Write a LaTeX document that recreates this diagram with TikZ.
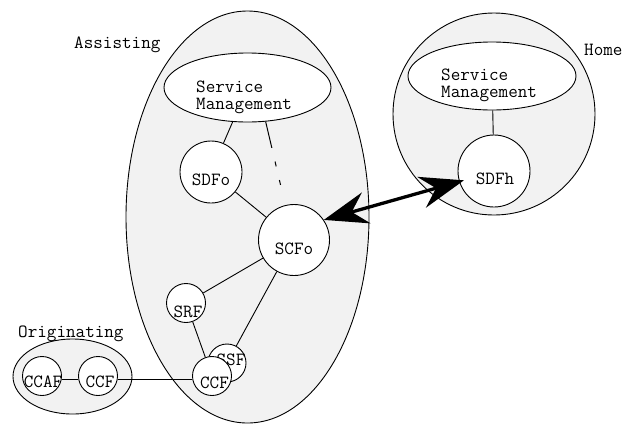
\documentclass[tikz,border=0pt]{standalone}
\usepackage{fontspec}
\usetikzlibrary{shapes.geometric,arrows.meta}
\begin{document}
\begin{tikzpicture}[x=1pt,y=-1pt,
  every node/.style={font=\ttfamily\fontsize{18.6}{16}\selectfont},
  region/.style={draw, fill=black!5, ellipse, inner sep=0pt, line width=0.9pt},
  fun/.style={draw, fill=white, circle, inner sep=0pt, line width=0.9pt},
  smell/.style={draw, fill=white, ellipse, inner sep=0pt, line width=0.9pt},
  txt/.style={inner sep=0pt, anchor=base},
  lbl/.style={inner sep=0pt, anchor=base west},
  smtxt/.style={inner sep=0pt, anchor=north west, align=left},
  link/.style={line width=0.9pt},
  dlink/.style={line width=1pt, dash pattern=on 27pt off 14pt on 5pt off 14pt on 5pt off 30pt},
  bigarrow/.style={line width=3.3pt, {Stealth[length=44pt,width=32pt,inset=15pt]}-{Stealth[length=44pt,width=32pt,inset=15pt]}}
]
\useasboundingbox (0,0) rectangle (623,424);

% regions
\node[region, minimum width=243pt, minimum height=412pt] (Assist) at (247.5,217) {};
\node[region, minimum width=202pt, minimum height=202pt] (Home) at (494,114) {};
\node[region, minimum width=119pt, minimum height=75pt] (Orig) at (72.5,376.5) {};

% region labels
\node[lbl] (lAssist) at (74,48) {Assisting};
\node[lbl] (lHome) at (584,55) {Home};
\node[lbl] (lOrig) at (18,337) {Originating};

% service management
\node[smell, minimum width=167pt, minimum height=69pt] (SMa) at (247.5,87.5) {};
\node[smtxt] (tSMa) at (196,81.2) {Service\\[1pt]Management};
\node[smell, minimum width=168pt, minimum height=68pt] (SMh) at (492,76) {};
\node[smtxt] (tSMh) at (441,68.6) {Service\\[1pt]Management};

% functions
\node[fun, minimum size=62pt] (SDFo) at (211,172) {};
\node[txt] (tSDFo) at (211,185) {SDFo};
\node[fun, minimum size=71pt] (SCFo) at (294,240) {};
\node[txt] (tSCFo) at (294,254) {SCFo};
\node[fun, minimum size=39pt] (SRF) at (186,303) {};
\node[txt] (tSRF) at (188,317) {SRF};
\node[fun, minimum size=38pt] (SSF) at (227,363) {};
\node[txt] (tSSF) at (231,365) {SSF};
\node[fun, minimum size=39pt] (CCFa) at (212,376) {};
\node[txt] (tCCFa) at (214.5,388) {CCF};
\node[fun, minimum size=39pt] (CCAF) at (42,376) {};
\node[fun, minimum size=39pt] (CCFo) at (98,376) {};
\node[fun, minimum size=72pt] (SDFh) at (494,171) {};
\node[txt] (tSDFh) at (495,184) {SDFh};

% links
\draw[link] (SMa) -- (SDFo);
\draw[dlink] (SMa.-62) -- (SCFo.104);
\draw[link] (SDFo) -- (SCFo);
\draw[link] (SCFo) -- (SRF);
\draw[link] (SCFo) -- (SSF);
\draw[link] (SRF) -- (CCFa);
\draw[link] (SMh) -- (SDFh);
\draw[link] ([yshift=-3pt]CCAF.east) -- ([yshift=-3pt]CCFo.west);
\draw[link] ([yshift=-3pt]CCFo.east) -- ([yshift=-3pt]CCFa.west);

\node[txt] (tCCAF) at (43,387) {CCAF};
\node[txt] (tCCFo) at (100,387) {CCF};

% big double arrow
\draw[bigarrow, shorten >=-5pt] (SCFo.34) -- (SDFh.197);
\end{tikzpicture}
\end{document}
